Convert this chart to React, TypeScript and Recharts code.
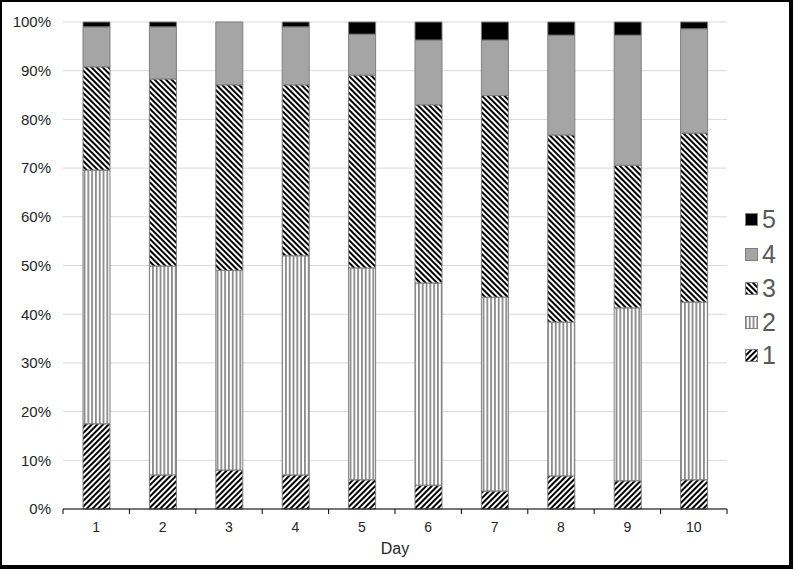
import { BarChart, Bar, XAxis, YAxis, CartesianGrid } from 'recharts';

const DAYS = ['1', '2', '3', '4', '5', '6', '7', '8', '9', '10'];
const S1 = [17.5, 7.0, 8.0, 7.0, 6.0, 4.9, 3.7, 6.8, 5.8, 6.0];
const S2 = [52.1, 42.9, 41.0, 45.0, 43.5, 41.5, 39.8, 31.6, 35.5, 36.5];
const S3 = [21.2, 38.4, 38.1, 35.1, 39.6, 36.6, 41.4, 38.4, 29.3, 34.7];
const S4 = [8.2, 10.7, 12.9, 11.9, 8.4, 13.3, 11.4, 20.5, 26.7, 21.4];
const S5 = [1.0, 1.0, 0, 1.0, 2.5, 3.7, 3.7, 2.7, 2.7, 1.4];
const Y_TICKS = [0, 0.1, 0.2, 0.3, 0.4, 0.5, 0.6, 0.7, 0.8, 0.9, 1];

const W = 793;
const H = 569;
const PLOT_LEFT = 63;
const PLOT_RIGHT = 727;
const BAND = (PLOT_RIGHT - PLOT_LEFT) / DAYS.length;

const data = DAYS.map((d, i) => ({ day: d, s1: S1[i], s2: S2[i], s3: S3[i], s4: S4[i], s5: S5[i] }));

// stacking order bottom -> top
const SERIES = [
  { key: 's1', name: '1', fill: 'url(#pat1)' },
  { key: 's2', name: '2', fill: 'url(#pat2)' },
  { key: 's3', name: '3', fill: 'url(#pat3)' },
  { key: 's4', name: '4', fill: '#a5a5a5' },
  { key: 's5', name: '5', fill: '#000000' },
];

const font = '"Liberation Sans", Arial, sans-serif';

const Patterns = () => (
  <svg width={0} height={0} style={{ position: 'absolute' }}>
    <defs>
      <pattern id="pat1" patternUnits="userSpaceOnUse" width={4} height={4} patternTransform="rotate(45)">
        <rect width={4} height={4} fill="#fff" />
        <rect width={2} height={4} fill="#000" />
      </pattern>
      <pattern id="pat2" patternUnits="userSpaceOnUse" width={3.8} height={4}>
        <rect width={3.8} height={4} fill="#fff" />
        <rect width={1.8} height={4} fill="#8a8a8a" />
      </pattern>
      <pattern id="pat3" patternUnits="userSpaceOnUse" width={4} height={4} patternTransform="rotate(-45)">
        <rect width={4} height={4} fill="#fff" />
        <rect width={2} height={4} fill="#000" />
      </pattern>
    </defs>
  </svg>
);

const DayTick = (props: any) => {
  const { x, y, payload, index } = props;
  return (
    <g>
      <line x1={x - BAND / 2} x2={x - BAND / 2} y1={y} y2={y + 5} stroke="#000" />
      {index === DAYS.length - 1 && <line x1={x + BAND / 2} x2={x + BAND / 2} y1={y} y2={y + 5} stroke="#000" />}
      <text x={x} y={y + 23} textAnchor="middle" fontSize={14} fill="#262626" fontFamily={font}>
        {payload.value}
      </text>
    </g>
  );
};

const LEGEND_TOPS = [219, 254, 288, 322, 355];

export default function App() {
  const legendItems = [...SERIES].reverse();
  return (
    <div style={{ position: 'absolute', left: 0, top: 0, width: W, height: H, background: '#fff', overflow: 'hidden' }}>
      <Patterns />
      <BarChart
        width={W}
        height={H}
        data={data}
        stackOffset="expand"
        barSize={27}
        margin={{ top: 22, right: W - PLOT_RIGHT, bottom: 10, left: PLOT_LEFT - 55 }}
      >
        <CartesianGrid vertical={false} stroke="#d9d9d9" />
        <XAxis
          dataKey="day"
          height={50}
          tickLine={false}
          tickSize={0}
          tickMargin={0}
          stroke="#000"
          tick={<DayTick />}
          interval={0}
          label={{ value: 'Day', position: 'insideBottom', offset: 5, fontSize: 16, fill: '#262626', fontFamily: font }}
        />
        <YAxis
          width={55}
          domain={[0, 1]}
          ticks={Y_TICKS}
          axisLine={false}
          tickLine={false}
          tickSize={0}
          tickMargin={12}
          tickFormatter={(v: number) => `${Math.round(v * 100)}%`}
          tick={{ fontSize: 15, fill: '#262626', fontFamily: font }}
        />
        {SERIES.map((s) => (
          <Bar
            key={s.key}
            dataKey={s.key}
            name={s.name}
            stackId="a"
            fill={s.fill}
            stroke="#7f7f7f"
            strokeWidth={1}
            isAnimationActive={false}
          />
        ))}
      </BarChart>
      {legendItems.map((s, i) => (
        <div
          key={s.key}
          style={{ position: 'absolute', left: 745, top: LEGEND_TOPS[i] - 15, height: 30, display: 'flex', alignItems: 'center' }}
        >
          <svg width={13} height={13} style={{ display: 'block' }}>
            <rect x={0.5} y={0.5} width={12} height={12} fill={s.fill} stroke="#7f7f7f" />
          </svg>
          <span style={{ marginLeft: 4, fontSize: 25, color: '#595959', fontFamily: font, lineHeight: '30px' }}>{s.name}</span>
        </div>
      ))}
      <div
        style={{
          position: 'absolute',
          left: 0,
          top: 0,
          width: W,
          height: H,
          boxSizing: 'border-box',
          borderStyle: 'solid',
          borderColor: '#000',
          borderWidth: '2px 4px 4px 2px',
          pointerEvents: 'none',
        }}
      />
    </div>
  );
}
